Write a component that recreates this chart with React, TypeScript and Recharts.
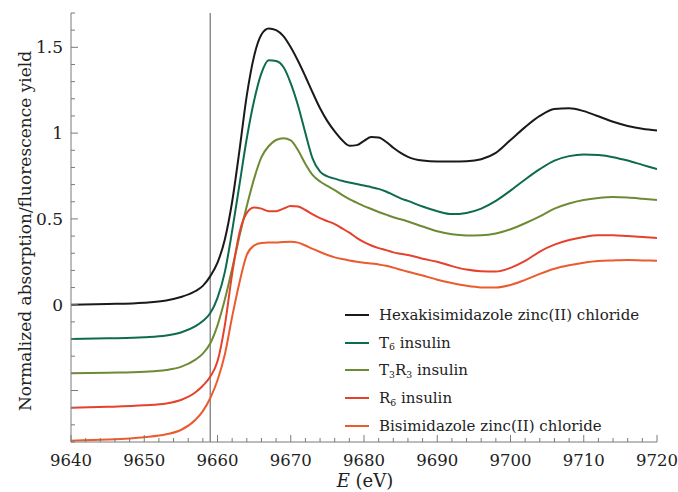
import { LineChart, Line, XAxis, YAxis, ReferenceLine, Legend, Label } from 'recharts';

// photon energy (eV)
const energy = [
  9640, 9645, 9650, 9653, 9655, 9657, 9658, 9659, 9660, 9661,
  9662, 9663, 9664, 9665, 9666, 9667, 9668, 9669, 9670, 9671,
  9672, 9673, 9674, 9675, 9676, 9677, 9678, 9679, 9680, 9681,
  9682, 9683, 9684, 9685, 9686, 9688, 9690, 9692, 9694, 9696,
  9698, 9700, 9702, 9704, 9706, 9708, 9710, 9712, 9714, 9716,
  9718, 9720,
];

const hexa = [
  0.0, 0.004, 0.012, 0.025, 0.045, 0.08, 0.11, 0.165, 0.245, 0.38,
  0.6, 0.9, 1.22, 1.45, 1.575, 1.61, 1.6, 1.565, 1.5, 1.42,
  1.33, 1.235, 1.145, 1.07, 1.01, 0.96, 0.927, 0.93, 0.955, 0.977,
  0.975, 0.95, 0.915, 0.885, 0.862, 0.84, 0.834, 0.834, 0.836, 0.848,
  0.885, 0.96, 1.035, 1.1, 1.14, 1.145, 1.128, 1.098, 1.066, 1.042,
  1.025, 1.015,
];

const t6 = [
  -0.2, -0.196, -0.19, -0.18, -0.162, -0.125, -0.095, -0.05, 0.04, 0.19,
  0.43, 0.7, 0.97, 1.19, 1.35, 1.425, 1.42, 1.385, 1.29, 1.16,
  1.0, 0.85, 0.775, 0.748, 0.735, 0.722, 0.712, 0.703, 0.695, 0.685,
  0.675, 0.66, 0.64, 0.62, 0.605, 0.572, 0.545, 0.528, 0.535, 0.56,
  0.605, 0.665, 0.73, 0.79, 0.84, 0.866, 0.876, 0.872, 0.86, 0.84,
  0.815, 0.79,
];

const t3r3 = [
  -0.4, -0.396, -0.39, -0.38, -0.362, -0.32, -0.285, -0.226, -0.12, 0.03,
  0.21, 0.4, 0.575, 0.735, 0.86, 0.925, 0.96, 0.97, 0.958, 0.9,
  0.82, 0.755, 0.718, 0.692, 0.668, 0.64, 0.615, 0.595, 0.575, 0.558,
  0.54, 0.525, 0.51, 0.498, 0.485, 0.456, 0.428, 0.41, 0.404, 0.405,
  0.415, 0.44, 0.475, 0.515, 0.56, 0.59, 0.61, 0.622, 0.628, 0.625,
  0.618, 0.61,
];

const r6 = [
  -0.6, -0.595, -0.586, -0.575, -0.555, -0.51, -0.472, -0.42, -0.33, -0.12,
  0.18, 0.42, 0.535, 0.567, 0.56, 0.545, 0.545, 0.56, 0.575, 0.572,
  0.552, 0.527, 0.505, 0.487, 0.47, 0.445, 0.42, 0.39, 0.365, 0.345,
  0.33, 0.318, 0.305, 0.297, 0.29, 0.268, 0.25, 0.225, 0.205, 0.195,
  0.193, 0.215, 0.255, 0.31, 0.35, 0.377, 0.395, 0.405, 0.405, 0.4,
  0.395, 0.389,
];

const bis = [
  -0.792, -0.786, -0.772, -0.755, -0.73, -0.67, -0.62, -0.545, -0.44, -0.29,
  -0.07, 0.13, 0.29, 0.345, 0.36, 0.362, 0.362, 0.366, 0.367, 0.362,
  0.345, 0.325, 0.307, 0.29, 0.276, 0.266, 0.258, 0.251, 0.245, 0.24,
  0.235, 0.227, 0.216, 0.204, 0.192, 0.17, 0.146, 0.126, 0.11, 0.101,
  0.1, 0.115, 0.145, 0.18, 0.21, 0.23, 0.245, 0.255, 0.258, 0.26,
  0.258, 0.256,
];

const xTicks = Array.from({ length: 41 }, (_, i) => 9640 + 2 * i);
const yTicks = Array.from({ length: 26 }, (_, i) => Math.round(-8 + i) / 10);
const yLabels: Record<string, string> = { '0': '0', '5': '0.5', '10': '1', '15': '1.5' };

const edgeEnergy = 9659;

const data = energy.map((E, i) => ({
  E,
  hexa: hexa[i],
  t6: t6[i],
  t3r3: t3r3[i],
  r6: r6[i],
  bis: bis[i],
}));

const series = [
  { key: 'hexa', color: '#1a1a1a', label: <>Hexakisimidazole zinc(II) chloride</> },
  { key: 't6', color: '#0e6b50', label: <>T<Sub>6</Sub> insulin</> },
  { key: 't3r3', color: '#6d8b35', label: <>T<Sub>3</Sub>R<Sub>3</Sub> insulin</> },
  { key: 'r6', color: '#e5412c', label: <>R<Sub>6</Sub> insulin</> },
  { key: 'bis', color: '#ea5c2e', label: <>Bisimidazole zinc(II) chloride</> },
];

const FONT = "'DejaVu Serif', 'Liberation Serif', serif";
const FRAME = '#7a7a7a';
const TEXT = '#222';

function Sub({ children }: { children: any }) {
  return <span style={{ fontSize: '0.62em', position: 'relative', top: '0.3em' }}>{children}</span>;
}

const isMajorX = (v: number) => v % 10 === 0;
const isMajorY = (v: number) => Math.round(v * 10) % 5 === 0;

function BottomTick({ x, y, payload }: any) {
  const major = isMajorX(payload.value);
  return (
    <g>
      <line x1={x} x2={x} y1={y} y2={y - (major ? 7 : 4)} stroke={FRAME} />
      {major && (
        <text x={x} y={y + 24} textAnchor="middle" fontSize={16.5} fontFamily={FONT} fill={TEXT}>
          {payload.value}
        </text>
      )}
    </g>
  );
}

function TopTick({ x, y, payload }: any) {
  const major = isMajorX(payload.value);
  return <line x1={x} x2={x} y1={y} y2={y + (major ? 7 : 4)} stroke={FRAME} />;
}

function LeftTick({ x, y, payload }: any) {
  const major = isMajorY(payload.value);
  const lbl = yLabels[String(Math.round(payload.value * 10))];
  return (
    <g>
      <line x1={x} x2={x + (major ? 7 : 4)} y1={y} y2={y} stroke={FRAME} />
      {lbl && (
        <text x={x - 8} y={y} dy="0.36em" textAnchor="end" fontSize={17} fontFamily={FONT} fill={TEXT}>
          {lbl}
        </text>
      )}
    </g>
  );
}

function RightTick({ x, y, payload }: any) {
  const major = isMajorY(payload.value);
  return <line x1={x} x2={x - (major ? 7 : 4)} y1={y} y2={y} stroke={FRAME} />;
}

function LegendBox() {
  return (
    <div style={{ fontFamily: FONT, fontSize: 15, color: TEXT }}>
      {series.map((s) => (
        <div key={s.key} style={{ display: 'flex', alignItems: 'center', height: 27.8, whiteSpace: 'nowrap' }}>
          <span style={{ display: 'inline-block', width: 24, height: 2, background: s.color, marginRight: 10 }} />
          <span>{s.label}</span>
        </div>
      ))}
    </div>
  );
}

export default function App() {
  return (
    <div style={{ position: 'absolute', left: 0, top: 0, width: 678, height: 492, background: '#fff' }}>
      <LineChart width={678} height={492} data={data} margin={{ top: 13, right: 21, bottom: 0, left: 0 }}>
        <XAxis
          dataKey="E"
          type="number"
          domain={[9640, 9720]}
          allowDataOverflow
          ticks={xTicks}
          interval={0}
          tickSize={0}
          tickMargin={0}
          tick={<BottomTick />}
          axisLine={{ stroke: FRAME }}
          height={50}
        >
          <Label
            content={() => (
              <text x={365} y={487} textAnchor="middle" fontSize={18} fontFamily={FONT} fill={TEXT}>
                <tspan fontStyle="italic">E</tspan> (eV)
              </text>
            )}
          />
        </XAxis>
        <XAxis
          xAxisId="top"
          orientation="top"
          dataKey="E"
          type="number"
          domain={[9640, 9720]}
          allowDataOverflow
          ticks={xTicks}
          interval={0}
          tickSize={0}
          tickMargin={0}
          tick={<TopTick />}
          axisLine={{ stroke: FRAME }}
          height={0}
        />
        <YAxis
          type="number"
          domain={[-0.8, 1.7]}
          allowDataOverflow
          ticks={yTicks}
          interval={0}
          tickSize={0}
          tickMargin={0}
          tick={<LeftTick />}
          axisLine={{ stroke: FRAME }}
          width={71}
        >
          <Label
            content={() => (
              <text
                x={31}
                y={231}
                transform="rotate(-90 31 231)"
                textAnchor="middle"
                fontSize={17}
                fontFamily={FONT}
                fill={TEXT}
              >
                Normalized absorption/fluorescence yield
              </text>
            )}
          />
        </YAxis>
        <YAxis
          yAxisId="right"
          orientation="right"
          type="number"
          domain={[-0.8, 1.7]}
          allowDataOverflow
          ticks={yTicks}
          interval={0}
          tickSize={0}
          tickMargin={0}
          tick={<RightTick />}
          axisLine={{ stroke: FRAME }}
          width={0}
        />
        <ReferenceLine x={edgeEnergy} stroke="#555" strokeWidth={1} />
        {series.map((s) => (
          <Line
            key={s.key}
            dataKey={s.key}
            type="monotone"
            stroke={s.color}
            strokeWidth={2}
            dot={false}
            activeDot={false}
            isAnimationActive={false}
          />
        ))}
        <Legend
          layout="horizontal"
          verticalAlign="middle"
          align="center"
          content={<LegendBox />}
          wrapperStyle={{ position: 'absolute', left: 345, top: 301, width: 'auto' }}
        />
      </LineChart>
    </div>
  );
}
